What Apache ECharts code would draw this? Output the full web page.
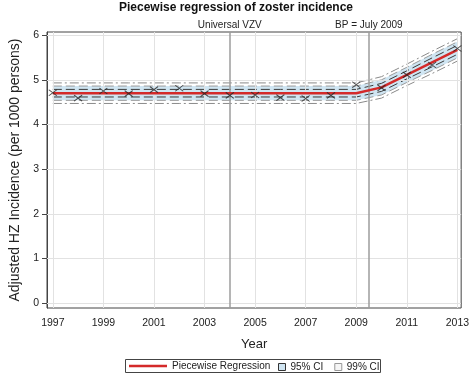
<!DOCTYPE html>
<html>
<head>
<meta charset="utf-8">
<title>Piecewise regression of zoster incidence</title>
<script src="https://cdn.jsdelivr.net/npm/echarts@6/dist/echarts.min.js"></script>
<style>
  html, body { margin: 0; padding: 0; background: #fff; }
  #chart { width: 472px; height: 375px; }
</style>
</head>
<body>
<div id="chart"></div>
<script>
// 年份与观测值
var years = [1997, 1998, 1999, 2000, 2001, 2002, 2003, 2004, 2005, 2006, 2007, 2008, 2009, 2010, 2011, 2012, 2013];
var observed = [4.71, 4.59, 4.75, 4.69, 4.78, 4.81, 4.69, 4.65, 4.66, 4.60, 4.58, 4.65, 4.89, 4.82, 5.11, 5.33, 5.70];

// 分段回归拟合线
var fitted = [4.70, 4.70, 4.70, 4.70, 4.70, 4.70, 4.70, 4.70, 4.70, 4.70, 4.70, 4.70, 4.70, 4.83, 5.11, 5.39, 5.67];

// 置信带（内、中、外三层）
var innerLo = [4.615, 4.615, 4.615, 4.615, 4.615, 4.615, 4.615, 4.615, 4.615, 4.615, 4.615, 4.615, 4.615, 4.74, 5.02, 5.29, 5.57];
var innerHi = [4.785, 4.785, 4.785, 4.785, 4.785, 4.785, 4.785, 4.785, 4.785, 4.785, 4.785, 4.785, 4.785, 4.92, 5.20, 5.49, 5.77];
var ci95Lo = [4.54, 4.54, 4.54, 4.54, 4.54, 4.54, 4.54, 4.54, 4.54, 4.54, 4.54, 4.54, 4.54, 4.66, 4.94, 5.21, 5.49];
var ci95Hi = [4.86, 4.86, 4.86, 4.86, 4.86, 4.86, 4.86, 4.86, 4.86, 4.86, 4.86, 4.86, 4.86, 5.00, 5.28, 5.57, 5.85];
var ci99Lo = [4.47, 4.47, 4.47, 4.47, 4.47, 4.47, 4.47, 4.47, 4.47, 4.47, 4.47, 4.47, 4.47, 4.59, 4.87, 5.14, 5.42];
var ci99Hi = [4.93, 4.93, 4.93, 4.93, 4.93, 4.93, 4.93, 4.93, 4.93, 4.93, 4.93, 4.93, 4.93, 5.07, 5.35, 5.64, 5.92];

// 刻度
var xTicks = [1997, 1999, 2001, 2003, 2005, 2007, 2009, 2011, 2013];
var yTicks = [0, 1, 2, 3, 4, 5, 6];

// 参考线
var refLines = [{ x: 2004, label: 'Universal VZV' }, { x: 2009.5, label: 'BP = July 2009' }];

var font = 'Liberation Sans, Arial, sans-serif';

function pairs(xs, ys) {
    return xs.map(function (x, i) { return [x, ys[i]]; });
}

function bandLine(name, ys, color, dash) {
    return {
        name: name,
        type: 'line',
        data: pairs(years, ys),
        symbol: 'none',
        silent: true,
        z: 3,
        lineStyle: { color: color, width: 1, type: dash }
    };
}

// 填充带：用一个多边形画出上下界之间的区域
function renderBand(params, api) {
    if (params.dataIndex !== 0) return;
    var upper = years.map(function (y, i) { return api.coord([y, ci95Hi[i]]); });
    var lower = years.map(function (y, i) { return api.coord([y, ci95Lo[i]]); }).reverse();
    return {
        type: 'polygon',
        shape: { points: upper.concat(lower) },
        style: { fill: '#cfe5f2', stroke: 'none' }
    };
}

var chart = echarts.init(document.getElementById('chart'), null, { renderer: 'canvas' });

var gridMarks = xTicks.map(function (v) { return { xAxis: v }; })
    .concat(yTicks.map(function (v) { return { yAxis: v }; }));

var option = {
    animation: false,
    textStyle: { fontFamily: font },
    title: {
        text: 'Piecewise regression of zoster incidence',
        left: 'center',
        top: 0,
        padding: [2, 5],
        textStyle: { fontFamily: font, fontSize: 12, fontWeight: 'bold', color: '#111' }
    },
    grid: {
        left: 41, right: 8, top: 32, bottom: 67,
        show: true, borderColor: '#444', borderWidth: 1
    },
    xAxis: {
        type: 'value',
        min: 1996.77,
        max: 2013.15,
        name: 'Year',
        nameLocation: 'middle',
        nameGap: 30,
        nameTextStyle: { fontFamily: font, fontSize: 13, color: '#222' },
        axisLine: { show: true, lineStyle: { color: '#444', width: 1 } },
        axisTick: { show: true, length: 5, customValues: xTicks, lineStyle: { color: '#444' } },
        axisLabel: {
            customValues: xTicks, margin: 10, fontFamily: font, fontSize: 10.5, color: '#222',
            formatter: function (v) { return String(v); }
        },
        splitLine: { show: false }
    },
    yAxis: {
        type: 'value',
        min: -0.11,
        max: 6.07,
        name: 'Adjusted HZ Incidence (per 1000 persons)',
        nameLocation: 'middle',
        nameGap: 25,
        nameTextStyle: { fontFamily: font, fontSize: 14, color: '#222' },
        axisLine: { show: true, lineStyle: { color: '#444', width: 1 } },
        axisTick: { show: true, length: 5, customValues: yTicks, lineStyle: { color: '#444' } },
        axisLabel: { customValues: yTicks, margin: 8, fontFamily: font, fontSize: 10.5, color: '#222' },
        splitLine: { show: false }
    },
    legend: [
        {
            data: [{ name: 'Piecewise Regression', icon: 'rect' }],
            left: 129, top: 361, padding: 0,
            itemWidth: 38, itemHeight: 2.5,
            textStyle: { fontFamily: font, fontSize: 10, color: '#222' }
        },
        {
            data: [
                { name: '95% CI', icon: 'rect', itemStyle: { color: '#cfe4f1', borderColor: '#333', borderWidth: 1 } },
                { name: '99% CI', icon: 'rect', itemStyle: { color: '#f6f6f6', borderColor: '#999', borderWidth: 1 } }
            ],
            left: 278, top: 362, padding: 0,
            itemWidth: 7, itemHeight: 7, itemGap: 11,
            textStyle: { fontFamily: font, fontSize: 10, color: '#222' }
        }
    ],
    graphic: [
        {
            type: 'rect',
            shape: { x: 125.5, y: 359.5, width: 255, height: 13 },
            style: { fill: 'none', stroke: '#444', lineWidth: 1 },
            silent: true
        }
    ],
    series: [
        // 网格线
        {
            name: 'gridlines',
            type: 'line',
            data: [],
            silent: true,
            z: 0,
            markLine: {
                silent: true,
                symbol: 'none',
                label: { show: false },
                lineStyle: { color: '#e2e2e2', width: 1, type: 'solid' },
                data: gridMarks
            }
        },
        // 参考竖线
        {
            name: 'refs',
            type: 'line',
            data: [],
            silent: true,
            z: 2,
            markLine: {
                silent: true,
                symbol: 'none',
                lineStyle: { color: '#9c9c9c', width: 1.5, type: 'solid' },
                label: {
                    show: true,
                    position: 'end',
                    distance: 2,
                    fontFamily: font,
                    fontSize: 10,
                    color: '#222',
                    formatter: function (p) { return p.name; }
                },
                data: refLines.map(function (r) { return { xAxis: r.x, name: r.label }; })
            }
        },
        // 置信带填充
        {
            name: '95% CI',
            type: 'custom',
            data: pairs(years, ci95Hi),
            renderItem: renderBand,
            silent: true,
            z: 1,
            itemStyle: { color: '#cfe4f1' }
        },
        bandLine('99% CI', ci99Lo, '#8a8a8a', [9, 3, 2, 3]),
        bandLine('99% CI', ci99Hi, '#8a8a8a', [9, 3, 2, 3]),
        bandLine('95% CI', ci95Lo, '#9a9a9a', [9, 4]),
        bandLine('95% CI', ci95Hi, '#9a9a9a', [9, 4]),
        bandLine('95% CI', innerLo, '#3a3a3a', [9, 4]),
        bandLine('95% CI', innerHi, '#3a3a3a', [9, 4]),
        // 回归线
        {
            name: 'Piecewise Regression',
            type: 'line',
            data: pairs(years, fitted),
            symbol: 'none',
            z: 5,
            itemStyle: { color: '#d42a2a' },
            lineStyle: { color: '#d42a2a', width: 2.5 }
        },
        // 观测值
        {
            name: 'Observed',
            type: 'scatter',
            data: pairs(years, observed),
            symbol: 'path://M0,0L10,10M10,0L0,10',
            symbolSize: [8, 6],
            z: 6,
            itemStyle: { color: 'none', borderColor: '#222', borderWidth: 1 }
        }
    ]
};

chart.setOption(option);
</script>
</body>
</html>
